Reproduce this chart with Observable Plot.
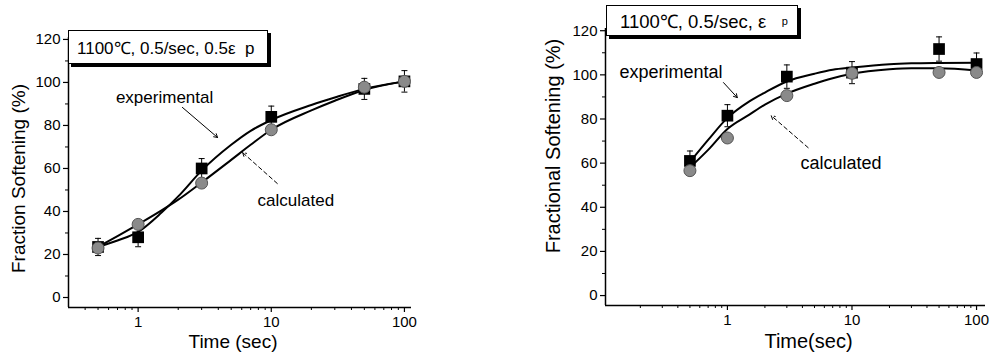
<!DOCTYPE html>
<html><head><meta charset="utf-8">
<script src="https://cdn.jsdelivr.net/npm/d3@7"></script>
<script src="https://cdn.jsdelivr.net/npm/@observablehq/plot@0.6"></script>
<style>
body{margin:0;background:#fff;}
#wrap{position:relative;width:993px;height:356px;overflow:hidden;font-family:"Liberation Sans",Arial,sans-serif;background:#fff;}
.panel{position:absolute;top:0;}
.box{position:absolute;background:#fff;border:1px solid #000;box-shadow:3px 3px 0 #000;white-space:pre;color:#000;display:flex;align-items:center;box-sizing:border-box;}
</style></head><body><div id="wrap"></div>
<script>
// ---- Panel A (left) data ----
const timesA = [0.5, 1, 3, 10, 50, 100];
const expA = [23.5, 28, 60, 84, 97, 100.5];
const expErrA = [4, 4.4, 4.6, 5, 4.9, 5];
const calcA = [23, 34, 53.2, 78, 97.8, 100.5];
const curveT = [0.5, 0.7, 1, 1.5, 2, 3, 5, 7, 10, 20, 30, 50, 100];
const expCurveA = [23.5, 26.5, 30.5, 39.5, 47, 59, 71, 77.5, 82.5, 89.5, 93, 97, 100.5];
const calcCurveA = [23.5, 28.5, 34, 40.5, 45.5, 53.5, 64, 71, 78, 87, 91.5, 96.5, 100.5];

// ---- Panel B (right) data ----
const timesB = [0.5, 1, 3, 10, 50, 100];
const expB = [61, 81.5, 99.2, 101, 111.7, 104.9];
const expErrB = [4.5, 5, 5.3, 5, 5.5, 5];
const calcB = [56.6, 71.4, 90.6, 100.7, 101.1, 101.1];
const expCurveB = [60.5, 70.5, 80.5, 88, 92, 97, 100.5, 102.3, 103.3, 104.8, 105.2, 105.4, 105.5];
const calcCurveB = [58, 66, 75.5, 82, 86.5, 91.5, 96, 98.5, 100.5, 102.5, 103, 103, 102];

// ---- ticks ----
const yMajor = [0, 20, 40, 60, 80, 100, 120];
const yMinor = [10, 30, 50, 70, 90, 110];
const xMajor = [1, 10, 100];
const xMinorA = [0.4, 0.5, 0.6, 0.7, 0.8, 0.9, 2, 3, 4, 5, 6, 7, 8, 9, 20, 30, 40, 50, 60, 70, 80, 90];
const xMinorB = [0.2, 0.3, 0.4, 0.5, 0.6, 0.7, 0.8, 0.9, 2, 3, 4, 5, 6, 7, 8, 9, 20, 30, 40, 50, 60, 70, 80, 90];

// ---- labels / annotations ----
const titleA = "1100℃, 0.5/sec, 0.5ε  p";
const titleB = "1100℃, 0.5/sec, ε   ";
const yLabelA = "Fraction Softening (%)";
const yLabelB = "Fractional Softening (%)";
const xLabelA = "Time (sec)";
const xLabelB = "Time(sec)";
const notesA = [{t: 1.58, v: 93, text: "experimental"}, {t: 15.3, v: 45.1, text: "calculated"}];
const arrowsA = [{t1: 2.15, v1: 88.4, t2: 3.95, v2: 74.4, dash: null}, {t1: 11.1, v1: 53, t2: 6.09, v2: 67.4, dash: "4,3"}];
const notesB = [{t: 0.353, v: 101, text: "experimental"}, {t: 8.17, v: 59.8, text: "calculated"}];
const arrowsB = [{t1: 0.93, v1: 96.5, t2: 1.2, v2: 89.7, dash: null}, {t1: 4.45, v1: 67, t2: 2.25, v2: 81.5, dash: "4,3"}];

const FONT = '"Liberation Sans", Arial, sans-serif';
const cap = {draw(ctx, size) { const w = Math.sqrt(size / Math.PI); ctx.moveTo(-w, 0); ctx.lineTo(w, 0); }};

function panel(cfg) {
  const rows = cfg.times.map((t, i) => ({t, e: cfg.exp[i], err: cfg.err[i], c: cfg.calc[i]}));
  const curve = curveT.map((t, i) => ({t, e: cfg.expCurve[i], c: cfg.calcCurve[i]}));
  return Plot.plot({
    width: cfg.width, height: 356,
    marginLeft: cfg.ml, marginRight: cfg.mr, marginTop: cfg.mt, marginBottom: cfg.mb,
    style: {fontFamily: FONT, fontSize: "15px", color: "#000", background: "transparent", overflow: "visible"},
    x: {type: "log", domain: cfg.xDomain},
    y: {domain: cfg.yDomain},
    marks: [
      Plot.ruleX([cfg.xDomain[0]], {stroke: "#000", strokeWidth: 1.5}),
      Plot.ruleY([cfg.yDomain[0]], {stroke: "#000", strokeWidth: 1.5}),
      Plot.axisY(yMajor, {tickSize: 5, tickPadding: 3, label: null, fontSize: 15, strokeWidth: 1.2}),
      Plot.axisY(yMinor, {tickSize: 3, tickFormat: () => "", label: null, strokeWidth: 1}),
      Plot.axisX(xMajor, {tickSize: 5, tickPadding: 4, label: null, fontSize: 15, tickFormat: d => String(d), strokeWidth: 1.2}),
      Plot.axisX(cfg.xMinor, {tickSize: 3, tickFormat: () => "", label: null, strokeWidth: 1}),
      Plot.ruleX(rows, {x: "t", y1: d => d.e - d.err, y2: d => d.e + d.err, stroke: "#000", strokeWidth: 1}),
      Plot.dot(rows, {x: "t", y: d => d.e + d.err, symbol: cap, r: 3, fill: "none", stroke: "#000", strokeWidth: 1}),
      Plot.dot(rows, {x: "t", y: d => d.e - d.err, symbol: cap, r: 3, fill: "none", stroke: "#000", strokeWidth: 1}),
      Plot.line(curve, {x: "t", y: "e", curve: "monotone-x", stroke: "#000", strokeWidth: 2}),
      Plot.line(curve, {x: "t", y: "c", curve: "monotone-x", stroke: "#000", strokeWidth: 2}),
      Plot.dot(rows, {x: "t", y: "e", symbol: "square", r: 6.6, fill: "#000", stroke: "none"}),
      Plot.dot(rows, {x: "t", y: "c", symbol: "circle", r: 6, fill: "#8a8a8a", stroke: "#555", strokeWidth: 1}),
      Plot.text(cfg.notes, {x: "t", y: "v", text: "text", fontSize: cfg.fs, fill: "#000"}),
      Plot.arrow(cfg.arrows.filter(d => !d.dash), {x1: "t1", y1: "v1", x2: "t2", y2: "v2", stroke: "#000", strokeWidth: 1, headLength: 6, bend: 0}),
      Plot.arrow(cfg.arrows.filter(d => d.dash), {x1: "t1", y1: "v1", x2: "t2", y2: "v2", stroke: "#000", strokeWidth: 1, headLength: 6, bend: 0, strokeDasharray: "4,3"}),
      Plot.text([cfg.yLabel], {text: d => d, frameAnchor: "left", textAnchor: "middle", lineAnchor: "middle", dx: cfg.ydx, dy: cfg.ydy, rotate: -90, fontSize: cfg.lfs, fill: "#000"}),
      Plot.text([cfg.xLabel], {text: d => d, frameAnchor: "bottom", textAnchor: "middle", lineAnchor: "middle", dx: cfg.xdx, dy: cfg.xdy, fontSize: cfg.lfs, fill: "#000"})
    ]
  });
}

const wrap = document.getElementById("wrap");

const svgA = panel({
  times: timesA, exp: expA, err: expErrA, calc: calcA, expCurve: expCurveA, calcCurve: calcCurveA,
  width: 460, ml: 68, mr: 49, mt: 37, mb: 49,
  xDomain: [0.3, 113], yDomain: [-4.65, 120.9], xMinor: xMinorA,
  notes: notesA, arrows: arrowsA, fs: 17, lfs: 19,
  yLabel: yLabelA, ydx: -50, ydy: 6, xLabel: xLabelA, xdx: -7, xdy: 34
});
const dA = document.createElement("div"); dA.className = "panel"; dA.style.left = "0px"; dA.appendChild(svgA); wrap.appendChild(dA);

const svgB = panel({
  times: timesB, exp: expB, err: expErrB, calc: calcB, expCurve: expCurveB, calcCurve: calcCurveB,
  width: 463, ml: 75, mr: 8, mt: 28, mb: 51,
  xDomain: [0.105, 118], yDomain: [-4.5, 121], xMinor: xMinorB,
  notes: notesB, arrows: arrowsB, fs: 18, lfs: 20,
  yLabel: yLabelB, ydx: -52, ydy: -21, xLabel: xLabelB, xdx: 13, xdy: 36
});
const dB = document.createElement("div"); dB.className = "panel"; dB.style.left = "530px"; dB.appendChild(svgB); wrap.appendChild(dB);

// title boxes
const bA = document.createElement("div"); bA.className = "box";
Object.assign(bA.style, {left: "68px", top: "30px", width: "200px", height: "34px", fontSize: "17px", paddingLeft: "8px"});
bA.textContent = titleA; wrap.appendChild(bA);

const bB = document.createElement("div"); bB.className = "box";
Object.assign(bB.style, {left: "606px", top: "5px", width: "192px", height: "31px", fontSize: "18.5px", paddingLeft: "13px"});
bB.textContent = titleB;
const sub = document.createElement("sub"); sub.textContent = "p"; sub.style.fontSize = "11px"; bB.appendChild(sub);
wrap.appendChild(bB);
</script></body></html>
